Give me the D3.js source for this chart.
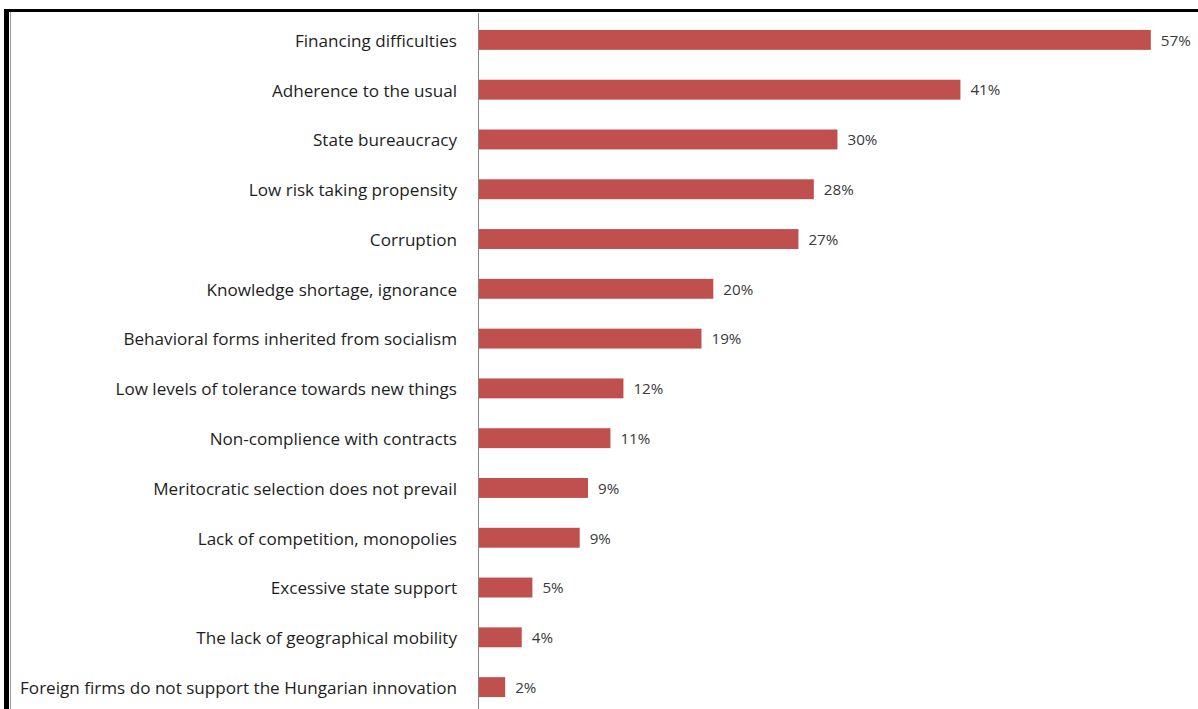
<!DOCTYPE html>
<html>
<head>
<meta charset="utf-8">
<script src="https://cdn.jsdelivr.net/npm/d3@7"></script>
<style>
  body { margin: 0; background: #fff; }
  svg { display: block; }
  .cat { font-family: "Open Sans", Lato, sans-serif; font-size: 17.1px; fill: #1e1e1e; }
  .val { font-family: "Open Sans", Lato, sans-serif; font-size: 15.2px; fill: #3a3a3a; }
</style>
</head>
<body>
<div id="containerChart"></div>
<script>
// categories, top to bottom
var categories = [
  "Financing difficulties",
  "Adherence to the usual",
  "State bureaucracy",
  "Low risk taking propensity",
  "Corruption",
  "Knowledge shortage, ignorance",
  "Behavioral forms inherited from socialism",
  "Low levels of tolerance towards new things",
  "Non-complience with contracts",
  "Meritocratic selection does not prevail",
  "Lack of competition, monopolies",
  "Excessive state support",
  "The lack of geographical mobility",
  "Foreign firms do not support the Hungarian innovation"
];

// share of answers (%)
var shares = [56.9, 40.8, 30.4, 28.4, 27.1, 19.9, 18.9, 12.3, 11.2, 9.3, 8.6, 4.6, 3.7, 2.3];

// labels printed next to the bars
var valueLabels = ["57%", "41%", "30%", "28%", "27%", "20%", "19%", "12%", "11%", "9%", "9%", "5%", "4%", "2%"];

var width = 1198, height = 709;
var axisX = 478;

var svg = d3.select("#containerChart")
  .append("svg")
  .attr("width", width)
  .attr("height", height);

// frame like the original screenshot
svg.append("rect")
  .attr("x", 4).attr("y", 9)
  .attr("width", width).attr("height", 3)
  .attr("fill", "#000");
svg.append("rect")
  .attr("x", 4).attr("y", 9)
  .attr("width", 5).attr("height", height)
  .attr("fill", "#000");
svg.append("line")
  .attr("x1", 10.5).attr("x2", 10.5)
  .attr("y1", 12).attr("y2", height)
  .attr("stroke", "#9a9a9a");

var x = d3.scaleLinear()
  .domain([0, 57])
  .range([axisX, 1152]);

var y = d3.scaleBand()
  .domain(categories)
  .range([15, 712])
  .paddingInner(0.6)
  .paddingOuter(0.3);

var data = categories.map(function (c, i) {
  return { cat: c, v: shares[i], label: valueLabels[i] };
});

// bars
svg.selectAll("rect.bar")
  .data(data)
  .enter()
  .append("rect")
  .attr("class", "bar")
  .attr("x", x(0))
  .attr("y", function (d) { return y(d.cat); })
  .attr("width", function (d) { return x(d.v) - x(0); })
  .attr("height", y.bandwidth())
  .attr("fill", "#c0504d");

// category axis
var yAxis = d3.axisLeft(y).tickSize(0).tickPadding(21);
var gy = svg.append("g")
  .attr("transform", "translate(" + axisX + ",0)")
  .call(yAxis);
gy.select(".domain")
  .attr("stroke", "#868686")
  .attr("d", "M0.5,13V" + height);
gy.selectAll(".tick text")
  .attr("class", "cat")
  .attr("fill", null)
  .attr("font-size", null)
  .attr("font-family", null)
  .attr("dy", "0.4em");

// value labels
svg.selectAll("text.val")
  .data(data)
  .enter()
  .append("text")
  .attr("class", "val")
  .attr("x", function (d) { return x(d.v) + 10; })
  .attr("y", function (d) { return y(d.cat) + y.bandwidth() / 2; })
  .attr("dy", "0.38em")
  .text(function (d) { return d.label; });
</script>
</body>
</html>
